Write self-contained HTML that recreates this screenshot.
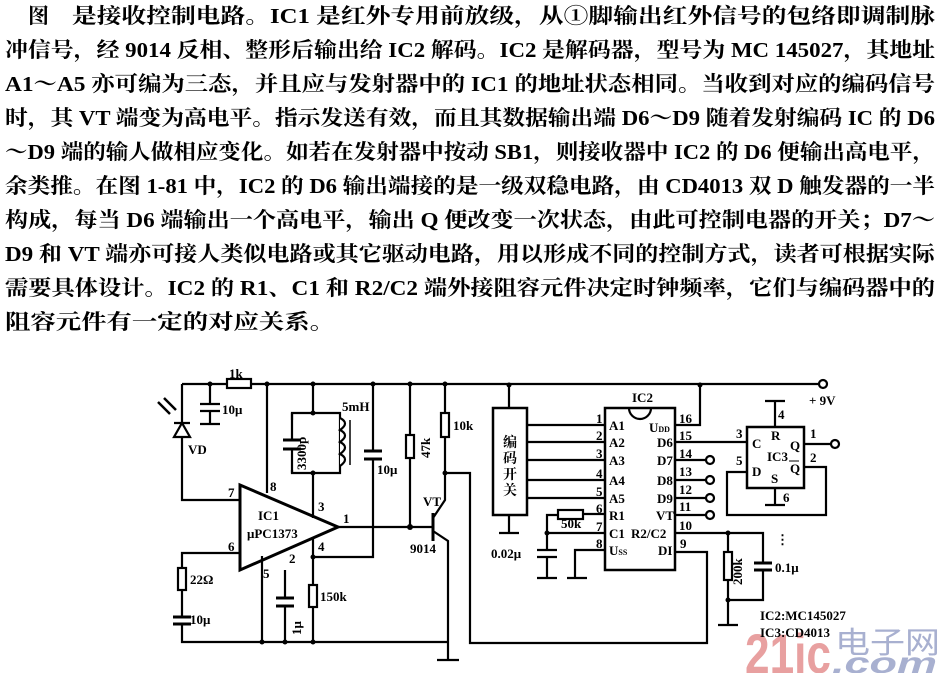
<!DOCTYPE html>
<html><head><meta charset="utf-8">
<style>
html,body{margin:0;padding:0;background:#fff;}
svg{display:block;}
.t{font-family:"Liberation Serif","Noto Serif CJK SC",serif;font-size:21px;fill:#000;font-weight:bold;}
.s{font-family:"Liberation Serif",serif;font-size:13px;fill:#000;font-weight:bold;}
.c{font-family:"Liberation Serif","Noto Serif CJK SC",serif;font-size:14px;fill:#000;font-weight:bold;}
</style></head>
<body>
<svg width="945" height="673" viewBox="0 0 945 673" xmlns="http://www.w3.org/2000/svg">
<rect width="945" height="673" fill="#fff"/>
<g class="t">
<text x="28" y="23">图</text>
<text x="72" y="23" textLength="863" lengthAdjust="spacingAndGlyphs">是接收控制电路。IC1 是红外专用前放级，从①脚输出红外信号的包络即调制脉</text>
<text x="5" y="57" textLength="930" lengthAdjust="spacingAndGlyphs">冲信号，经 9014 反相、整形后输出给 IC2 解码。IC2 是解码器，型号为 MC 145027，其地址</text>
<text x="5" y="91" textLength="930" lengthAdjust="spacingAndGlyphs">A1～A5 亦可编为三态，并且应与发射器中的 IC1 的地址状态相同。当收到对应的编码信号</text>
<text x="5" y="125" textLength="930" lengthAdjust="spacingAndGlyphs">时，其 VT 端变为高电平。指示发送有效，而且其数据输出端 D6～D9 随着发射编码 IC 的 D6</text>
<text x="5" y="159" textLength="930" lengthAdjust="spacingAndGlyphs">～D9 端的输人做相应变化。如若在发射器中按动 SB1，则接收器中 IC2 的 D6 便输出高电平，</text>
<text x="5" y="193" textLength="930" lengthAdjust="spacingAndGlyphs">余类推。在图 1-81 中，IC2 的 D6 输出端接的是一级双稳电路，由 CD4013 双 D 触发器的一半</text>
<text x="5" y="227" textLength="930" lengthAdjust="spacingAndGlyphs">构成，每当 D6 端输出一个高电平，输出 Q 便改变一次状态，由此可控制电器的开关；D7～</text>
<text x="5" y="261" textLength="930" lengthAdjust="spacingAndGlyphs">D9 和 VT 端亦可接人类似电路或其它驱动电路，用以形成不同的控制方式，读者可根据实际</text>
<text x="5" y="295" textLength="930" lengthAdjust="spacingAndGlyphs">需要具体设计。IC2 的 R1、C1 和 R2/C2 端外接阻容元件决定时钟频率，它们与编码器中的</text>
<text x="5" y="329" textLength="330" lengthAdjust="spacingAndGlyphs">阻容元件有一定的对应关系。</text>
</g>

<!-- watermark -->
<text x="745" y="673" font-family="Liberation Sans,sans-serif" font-weight="bold" font-size="56" fill="#e8a0a0" textLength="86" lengthAdjust="spacingAndGlyphs">21ic</text>
<text x="835" y="653" font-family="Noto Sans CJK SC,sans-serif" font-size="30" fill="#a8b0d0" textLength="105" lengthAdjust="spacingAndGlyphs">电子网</text>
<text x="832" y="673" font-family="Liberation Sans,sans-serif" font-weight="bold" font-style="italic" font-size="30" fill="#a8b0d0" textLength="105" lengthAdjust="spacingAndGlyphs">.com</text>

<g stroke="#000" stroke-width="2.2" fill="none">
<path d="M182 384 H227 M251 384 H819"/>
<rect x="227" y="379" width="24" height="9" fill="#fff"/>
<circle cx="823" cy="384" r="4" fill="#fff"/>
<path d="M182 384 V500 H240"/>
<path d="M174 423 H190 M174 437 L190 437 L182 423 Z" fill="#fff"/>
<path d="M158 402 L170 414 M164 398 L176 410" stroke-width="2.5"/>
<path d="M210 384 V404 M200 404 H220 M200 411 H220 M210 411 V424 M200 424 H220"/>
<path d="M267 384 V493"/>
<path d="M240 485 V570 L338 527 Z" stroke-width="3"/>
<path d="M240 553 H182 V576 M182 590 V617 M182 624 V642 H447"/>
<rect x="178" y="568" width="8" height="22" fill="#fff"/>
<path d="M173 617 H191 M173 624 H191" stroke-width="3"/>
<path d="M262 556 V642 M285 570 V598 M285 606 V642"/>
<path d="M276 598 H294 M276 606 H294" stroke-width="3"/>
<path d="M313 384 V413 M292 413 H340 V473 H292 Z M313 473 V518"/>
<rect x="284" y="420" width="16" height="50" fill="#fff" stroke="none"/>
<path d="M292 413 V440 M292 449 V473"/>
<path d="M283 440 H301 M283 449 H301" stroke-width="3"/>
<path d="M340 418 q10 5 0 12 q10 5 0 12 q10 5 0 12 q10 5 0 12" fill="#fff"/>
<path d="M350 420 V465" stroke-width="1.5"/>
<path d="M313 538 V585 M313 607 V642 M313 557 H373 V459 M373 451 V384"/>
<rect x="309" y="585" width="8" height="22" fill="#fff"/>
<path d="M364 451 H382 M364 459 H382" stroke-width="3"/>
<path d="M338 527 H433"/>
<path d="M410 384 V435 M410 458 V527"/>
<rect x="406" y="435" width="8" height="23" fill="#fff"/>
<path d="M445 384 V413 M445 437 V500 L433 518 M433 531 L448 541 V660 M437 660 H459"/>
<rect x="441" y="413" width="8" height="24" fill="#fff"/>
<path d="M433 513 V541" stroke-width="3"/>
<path d="M445 473 H470 V643 H707 V552 H675"/>
<path d="M509 385 V408 M509 515 V533 M499 533 H519"/>
<rect x="493" y="408" width="34" height="107" stroke-width="2.5"/>
<path d="M527 425 H605 M527 442 H605 M527 460 H605 M527 480 H605 M527 498 H605"/>
<rect x="605" y="408" width="70" height="162" stroke-width="2.5"/>
<path d="M629 408 A11 11 0 0 0 651 408"/>
<path d="M605 514 H583 M558 515 H547 V550 M547 533 H605 M537 550 H557 M537 557 H557 M547 557 V578 M537 578 H557"/>
<rect x="558" y="510" width="25" height="9" fill="#fff"/>
<path d="M605 550 H575 V578 M567 578 H587"/>
<path d="M675 425 H700 V385 M675 442 H747 M675 460 H706 M675 480 H706 M675 498 H706 M675 515 H706"/>
<circle cx="710" cy="460" r="4" fill="#fff"/><circle cx="710" cy="480" r="4" fill="#fff"/>
<circle cx="710" cy="498" r="4" fill="#fff"/><circle cx="710" cy="515" r="4" fill="#fff"/>
<path d="M675 533 H763 V563 M763 570 V600 H728 M728 533 V552 M728 580 V625 M718 625 H738"/>
<rect x="724" y="552" width="8" height="28" fill="#fff"/>
<path d="M754 563 H772 M754 570 H772" stroke-width="3"/>
<rect x="747" y="427" width="57" height="61" stroke-width="2.5"/>
<path d="M775 427 V401 M765 401 H785 M775 488 V505 M765 505 H785"/>
<path d="M804 444 H831 M804 467 H826 V515 H727 V472 H747"/>
<circle cx="835" cy="444" r="4" fill="#fff"/>
</g>
<g fill="#000">
<circle cx="210" cy="384" r="2.5"/><circle cx="267" cy="384" r="2.5"/><circle cx="313" cy="384" r="2.5"/>
<circle cx="373" cy="384" r="2.5"/><circle cx="410" cy="384" r="2.5"/><circle cx="445" cy="384" r="2.5"/>
<circle cx="509" cy="385" r="2.5"/><circle cx="700" cy="385" r="2.5"/>
<circle cx="313" cy="413" r="2.5"/><circle cx="313" cy="473" r="2.5"/><circle cx="313" cy="557" r="2.5"/>
<circle cx="410" cy="527" r="3"/><circle cx="445" cy="473" r="2.5"/>
<circle cx="262" cy="642" r="2.5"/><circle cx="285" cy="642" r="2.5"/><circle cx="313" cy="642" r="2.5"/>
<circle cx="547" cy="533" r="2.5"/><circle cx="728" cy="533" r="2.5"/><circle cx="728" cy="600" r="2.5"/>
</g>
<g class="s">
<text x="229" y="378">1k</text><text x="222" y="414">10μ</text><text x="188" y="454">VD</text>
<text x="228" y="497">7</text><text x="270" y="491">8</text><text x="318" y="511">3</text><text x="343" y="523">1</text>
<text x="228" y="551">6</text><text x="318" y="551">4</text><text x="263" y="578">5</text><text x="289" y="563">2</text>
<text x="258" y="520">IC1</text><text x="247" y="538">μPC1373</text>
<text x="342" y="411">5mH</text><text x="377" y="474">10μ</text>
<text x="190" y="584">22Ω</text><text x="190" y="624">10μ</text><text x="320" y="601">150k</text>
<text x="453" y="430">10k</text><text x="423" y="506">VT</text><text x="410" y="553">9014</text>
<text transform="translate(306,470) rotate(-90)">3300p</text>
<text transform="translate(430,458) rotate(-90)">47k</text>
<text transform="translate(301,635) rotate(-90)">1μ</text>
<text x="632" y="402">IC2</text><text x="809" y="405">+ 9V</text>
<text x="596" y="423">1</text><text x="596" y="440">2</text><text x="596" y="458">3</text><text x="596" y="478">4</text>
<text x="596" y="496">5</text><text x="596" y="513">6</text><text x="596" y="531">7</text><text x="596" y="548">8</text>
<text x="609" y="430">A1</text><text x="609" y="447">A2</text><text x="609" y="465">A3</text><text x="609" y="485">A4</text>
<text x="609" y="503">A5</text><text x="609" y="520">R1</text><text x="609" y="538">C1</text><text x="609" y="555">U<tspan font-size="8">SS</tspan></text>
<text x="649" y="432">U<tspan font-size="8">DD</tspan></text>
<text x="657" y="447">D6</text><text x="657" y="465">D7</text><text x="657" y="485">D8</text><text x="657" y="503">D9</text>
<text x="656" y="520">VT</text><text x="631" y="538">R2/C2</text><text x="658" y="555">DI</text>
<text x="679" y="423">16</text><text x="679" y="440">15</text><text x="679" y="458">14</text><text x="679" y="476">13</text>
<text x="679" y="494">12</text><text x="679" y="511">11</text><text x="679" y="530">10</text><text x="680" y="548">9</text>
<text x="561" y="528">50k</text><text x="491" y="558">0.02μ</text>
<text x="775" y="572">0.1μ</text><text transform="translate(742,585) rotate(-90)">200k</text>
<text x="736" y="438">3</text><text x="736" y="465">5</text><text x="778" y="419">4</text><text x="783" y="502">6</text>
<text x="810" y="438">1</text><text x="810" y="462">2</text>
<text x="752" y="448">C</text><text x="752" y="476">D</text><text x="771" y="440">R</text><text x="771" y="483">S</text>
<text x="767" y="461">IC3</text><text x="790" y="450">Q</text><text x="790" y="473">Q</text>
<text x="760" y="620">IC2:MC145027</text><text x="760" y="637">IC3:CD4013</text>
</g>
<path d="M789 461 H799" stroke="#000" stroke-width="1"/>
<text x="776" y="544" class="s">⋮</text>
<g class="c"><text x="503" y="447">编</text><text x="503" y="463">码</text><text x="503" y="479">开</text><text x="503" y="495">关</text></g>
</svg>
</body></html>
